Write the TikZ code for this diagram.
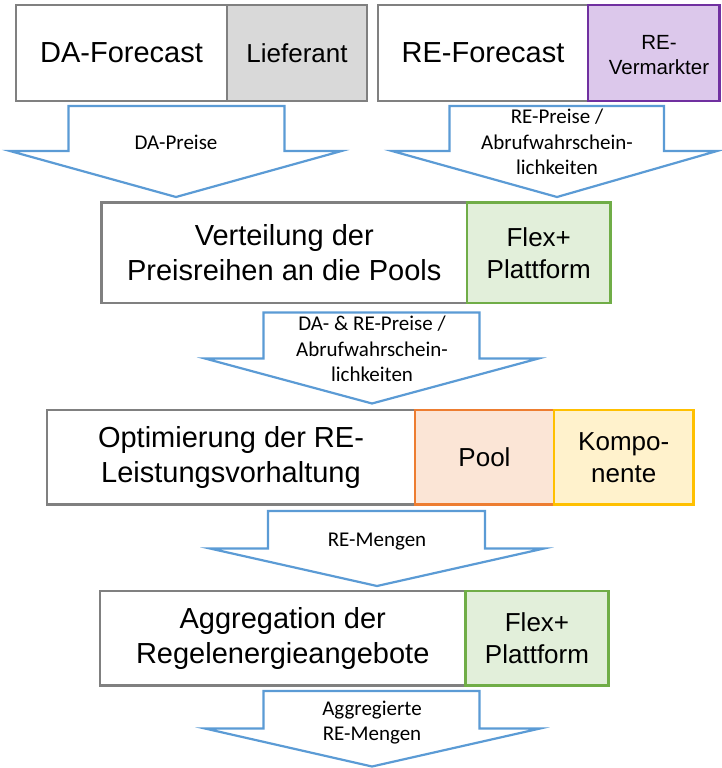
\documentclass[tikz,border=0pt]{standalone}
\usepackage{fontspec}
\setmainfont{Liberation Sans}
\newfontfamily\calibfont{Carlito}
\definecolor{boxgray}{HTML}{808080}
\definecolor{liefill}{HTML}{D9D9D9}
\definecolor{vermfill}{HTML}{DCC8EB}
\definecolor{vermdraw}{HTML}{7030A0}
\definecolor{flexfill}{HTML}{E2EFDA}
\definecolor{flexdraw}{HTML}{70AD47}
\definecolor{poolfill}{HTML}{FBE5D6}
\definecolor{pooldraw}{HTML}{ED7D31}
\definecolor{kompfill}{HTML}{FFF2CC}
\definecolor{kompdraw}{HTML}{FFC000}
\definecolor{arrblue}{HTML}{5B9BD5}
\newcommand\bigtxt{\fontsize{29}{35}\selectfont}
\newcommand\sidetxt{\fontsize{26}{32}\selectfont}
\newcommand\vermtxt{\fontsize{20.5}{25}\selectfont}
\newcommand\arrtxt{\calibfont\fontsize{21}{25.5}\selectfont}
\newcommand\blockarr[8]{%
  \draw[barrow] (#1,#3) -- (#2,#3) -- (#2,#4) -- (#6,#4) -- (#7,#8) -- (#5,#4) -- (#1,#4) -- cycle;}
\begin{document}
\begin{tikzpicture}[x=1pt,y=-1pt,
  mainbox/.style={draw=boxgray, fill=white, line width=2.5pt, inner sep=0pt, align=center, font=\bigtxt},
  sidebox/.style={line width=2.5pt, inner sep=0pt, align=center, font=\sidetxt},
  barrow/.style={draw=arrblue, fill=white, line width=2.2pt, line join=miter},
  arrlabel/.style={inner sep=0pt, align=center, font=\arrtxt}]
\useasboundingbox (0,0) rectangle (721,768);

% row 1
\node[mainbox, minimum width=211pt, minimum height=96pt] (da) at (121.5,53) {DA-Forecast};
\node[sidebox, draw=boxgray, fill=liefill, minimum width=140pt, minimum height=96pt] (lief) at (297,53) {Lieferant};
\node[mainbox, minimum width=210pt, minimum height=96pt] (ref) at (483,53) {RE-Forecast};
\node[sidebox, draw=vermdraw, fill=vermfill, minimum width=131.5pt, minimum height=96pt] (verm) at (653.75,53) {};
\node[inner sep=0pt, align=center, font=\vermtxt] (vermt) at (659,55) {RE-\\Vermarkter};

% arrows row 1
\blockarr{68.5}{284.5}{106}{151}{10}{341.5}{176}{197}
\node[arrlabel] (a1) at (176,142) {DA-Preise};
\blockarr{449.5}{664}{106}{151}{392}{717}{557}{197}
\node[arrlabel] (a2) at (557,142) {RE-Preise /\\Abrufwahrschein-\\lichkeiten};

% row 2
\node[mainbox, minimum width=365.5pt, minimum height=100.5pt] (vert) at (284.25,252.75) {Verteilung der\\Preisreihen an die Pools};
\node[sidebox, draw=flexdraw, fill=flexfill, minimum width=143.5pt, minimum height=100.5pt] (flex1) at (538.75,252.75) {Flex+\\Plattform};

\blockarr{263.5}{479.5}{312.5}{358.5}{205}{538.5}{372}{403.5}
\node[arrlabel] (a3) at (372,349) {DA- \& RE-Preise /\\Abrufwahrschein-\\lichkeiten};

% row 3
\node[mainbox, minimum width=368pt, minimum height=94.5pt] (opt) at (231,457.25) {Optimierung der RE-\\Leistungsvorhaltung};
\node[sidebox, draw=pooldraw, fill=poolfill, minimum width=139pt, minimum height=94.5pt] (pool) at (484.5,457.25) {Pool};
\node[sidebox, draw=kompdraw, fill=kompfill, minimum width=139.5pt, minimum height=94.5pt] (komp) at (623.75,457.25) {Kompo-\\nente};

\blockarr{268}{485}{511}{548.5}{210}{544}{377}{586}
\node[arrlabel] (a4) at (377,542) {RE-Mengen};

% row 4
\node[mainbox, minimum width=365.5pt, minimum height=94.5pt] (agg) at (282.75,638.25) {Aggregation der\\Regelenergieangebote};
\node[sidebox, draw=flexdraw, fill=flexfill, minimum width=143pt, minimum height=94.5pt] (flex2) at (537,638.25) {Flex+\\Plattform};

\blockarr{263.5}{479.5}{691}{728.5}{205}{540}{372}{766.5}
\node[arrlabel] (a5) at (372,722.5) {Aggregierte\\RE-Mengen};
\end{tikzpicture}
\end{document}
